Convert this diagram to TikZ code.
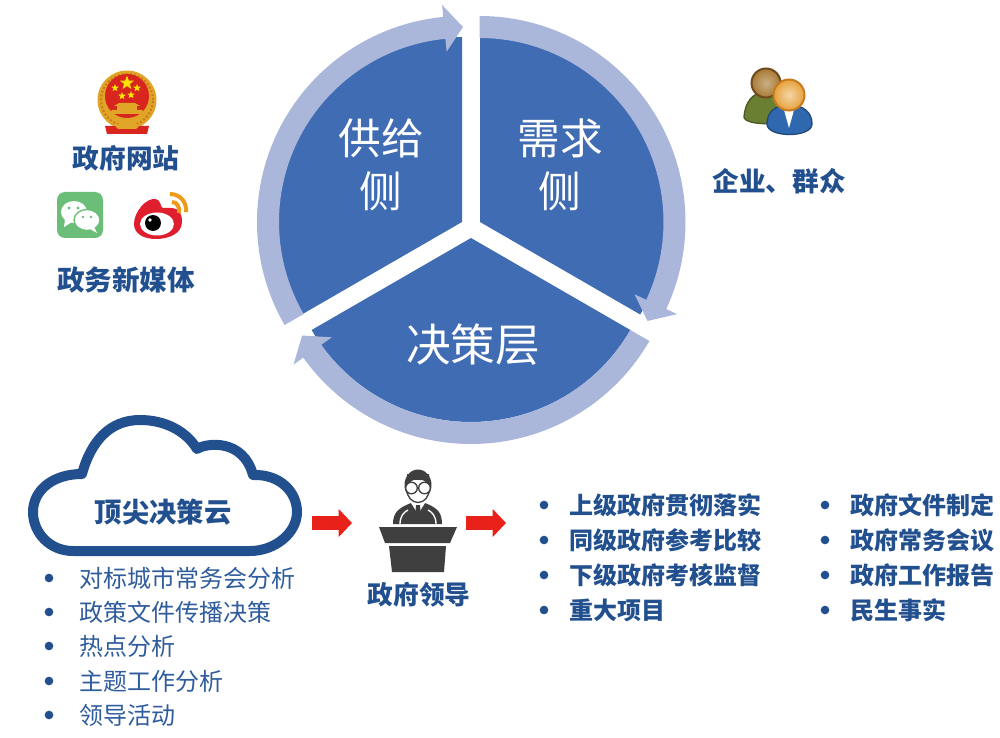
\documentclass[tikz,border=0pt]{standalone}
\usepackage{fontspec}
\setmainfont{Noto Sans CJK SC}
\usepackage{xcolor}
\usetikzlibrary{arrows.meta}
\usetikzlibrary{shapes}
\definecolor{sectorblue}{HTML}{3F6CB3}
\definecolor{ringblue}{HTML}{AAB7DA}
\definecolor{navy}{HTML}{22508F}
\definecolor{listblue}{HTML}{2F5C9C}
\definecolor{arrowred}{HTML}{E8211B}
\definecolor{iconblack}{HTML}{3F3F3F}
\definecolor{wreathgold}{HTML}{E0A526}
\definecolor{wreathdark}{HTML}{C9791E}
\definecolor{emblemred}{HTML}{D8251D}
\definecolor{wechatgreen}{HTML}{6BBE77}
\definecolor{weibored}{HTML}{DF1F2D}
\definecolor{weiboorange}{HTML}{F09A1A}
\definecolor{backhead}{HTML}{A87A35}
\definecolor{backedge}{HTML}{6E4A1C}
\definecolor{backcoat}{HTML}{6B7F32}
\definecolor{fronthead}{HTML}{E6A23C}
\definecolor{frontcoat}{HTML}{2F68AE}
\tikzset{
  sector/.style={fill=sectorblue},
  ring/.style={fill=ringblue},
  sectortext/.style={text=white,inner sep=0pt,align=center,font=\fontsize{32}{40}\selectfont},
  headline/.style={text=navy,inner sep=0pt,font=\bfseries\fontsize{20}{24}\selectfont},
  boldline/.style={text=navy,inner sep=0pt,anchor=west,font=\bfseries\fontsize{18}{22}\selectfont},
  plainline/.style={text=listblue,inner sep=0pt,anchor=west,font=\fontsize{18}{22}\selectfont},
  listdot/.style={circle,fill=navy,inner sep=0pt,minimum size=6.5pt},
  goldstar/.style={star,star points=5,star point ratio=2.4,fill=yellow!85!orange,inner sep=0pt},
  holder/.style={inner sep=0pt,outer sep=0pt,minimum height=60pt},
  redarrow/.style={arrowred,line width=10.5pt,-{Triangle[length=10pt,width=20.5pt]}}
}
% one ring of the wheel, centre / start angle / end angle / tip angle
\newcommand{\ringarrow}[4]{
  \fill[ring,shift={(#1)}] (#2:206) arc[start angle=#2,end angle=#3,radius=206]
    -- (#3:218) -- (#4:195) -- (#3:171) -- (#3:184)
    arc[start angle=#3,end angle=#2,radius=184] -- cycle;
}
\begin{document}
\begin{tikzpicture}[x=0.75pt,y=0.75pt]
\useasboundingbox (0,0) rectangle (1000,-738);

% wheel
\coordinate (supply) at (462,-222);
\coordinate (demand) at (480,-222);
\coordinate (decide) at (471,-238);
\coordinate (supplyring) at (463,-222);
\coordinate (demandring) at (479.5,-222);
\fill[sector] (supply) -- ++(90:185) arc[start angle=90,end angle=210,radius=185] -- cycle;
\fill[sector] (demand) -- ++(90:185) arc[start angle=90,end angle=-30,radius=185] -- cycle;
\fill[sector] (decide) -- ++(-30:184) arc[start angle=-30,end angle=-150,radius=184] -- cycle;
\ringarrow{supplyring}{210}{95.5}{90}
\ringarrow{demandring}{90}{-25}{-30.5}
\ringarrow{decide}{-30}{-144.5}{-150}
\node [sectortext] (supplytext) at (381,-165) {供给\\侧};
\node [sectortext] (demandtext) at (560,-165) {需求\\侧};
\node [sectortext,font=\fontsize{33.5}{40}\selectfont] (decidetext) at (473,-345) {决策层};

% emblem
\fill[wreathgold] (127,-100) circle (29.5);
\draw[wreathdark,line width=1.5pt,dash pattern=on 1.5pt off 1.5pt] (127,-100) circle (26);
\fill[emblemred] (105,-126) -- (149,-126) -- (147,-134) -- (107,-134) -- cycle;
\fill[wreathgold] (113,-124) -- (141,-124) -- (136,-129) -- (118,-129) -- cycle;
\fill[emblemred] (127,-96) circle (22);
\fill[wreathgold] (109,-114) -- (145,-114) -- (142,-110) -- (112,-110) -- cycle;
\fill[wreathgold] (117,-110) -- (137,-110) -- (137,-106) -- (117,-106) -- cycle;
\fill[wreathgold] (114,-106) -- (140,-106) -- (135,-103) -- (119,-103) -- cycle;
\node [goldstar,minimum size=11pt] (starmain) at (127,-83) {};
\node [goldstar,minimum size=6pt] (stara) at (115,-88) {};
\node [goldstar,minimum size=6pt] (starb) at (122,-96) {};
\node [goldstar,minimum size=6pt] (starc) at (131,-95) {};
\node [goldstar,minimum size=6pt] (stard) at (137,-88) {};
\node [headline] (website) at (126,-158) {政府网站};

% wechat
\fill[wechatgreen,rounded corners=6pt] (57,-192) rectangle (103,-238);
\fill[white] (74,-212) ellipse (13 and 11);
\fill[white] (65,-219) -- (64,-227) -- (72,-222) -- cycle;
\draw[fill=white,draw=wechatgreen,line width=1pt] (87,-220) ellipse (13 and 10.5);
\fill[white] (94,-227) -- (97,-233) -- (90,-229) -- cycle;
\fill[wechatgreen] (69,-208) circle (1.6) (78,-208) circle (1.6) (83,-217) circle (1.3) (91,-217) circle (1.3);

% weibo
\fill[weibored] (134,-224) .. controls (134,-212) and (146,-198) .. (155,-199)
  .. controls (162,-200) and (160,-208) .. (163,-208)
  .. controls (172,-208) and (182,-206) .. (182,-222)
  .. controls (182,-234) and (168,-239) .. (156,-239)
  .. controls (144,-239) and (134,-234) .. (134,-224) -- cycle;
\fill[white] (157,-224) ellipse (17 and 11.5);
\fill[black] (153,-223) circle (8);
\fill[white] (150,-220) circle (1.8);
\draw[weiboorange,line width=3pt] (170,-194) .. controls (180,-194) and (187,-202) .. (186,-212);
\draw[weiboorange,line width=3pt] (172,-202) .. controls (177,-202) and (180,-207) .. (179,-213);
\node [headline,font=\bfseries\fontsize{20.7}{24}\selectfont] (newmedia) at (126,-280) {政务新媒体};

% people
\draw[draw=backcoat!70!black,line width=1pt,fill=backcoat] (744,-117) .. controls (745,-103) and (752,-92) .. (766,-92)
  .. controls (780,-92) and (789,-103) .. (790,-117) .. controls (790,-126) and (744,-126) .. (744,-117) -- cycle;
\draw[draw=backedge,line width=1.5pt,inner color=backhead!60!white,outer color=backhead] (766,-83) circle (14.5);
\draw[draw=frontcoat!70!black,line width=1pt,fill=frontcoat] (767,-124) .. controls (767,-112) and (775,-105) .. (789,-105)
  .. controls (803,-105) and (812,-112) .. (812,-124) .. controls (812,-138) and (767,-138) .. (767,-124) -- cycle;
\fill[white] (784,-110) -- (794,-110) -- (789,-128) -- cycle;
\draw[draw=wreathdark,line width=1.5pt,inner color=fronthead!45!white,outer color=fronthead] (789,-95) circle (15.5);
\node [headline] (people) at (779,-181) {企业、群众};

% cloud
\draw[navy,line width=7.5pt,line join=round] (250,-551) -- (73,-551)
  .. controls (50,-551) and (33,-533) .. (33,-512)
  .. controls (33,-491) and (52,-474) .. (82,-474)
  .. controls (91,-441) and (110,-420) .. (140,-420)
  .. controls (165,-420) and (186,-431) .. (197,-449)
  .. controls (206,-443) and (243,-438) .. (253,-475)
  .. controls (280,-474) and (297,-492) .. (297,-512)
  .. controls (297,-533) and (275,-551) .. (250,-551) -- cycle;
\node [headline,font=\bfseries\fontsize{20.5}{24}\selectfont] (cloudtitle) at (163,-512) {顶尖决策云};
\node [holder,minimum width=223.5pt] (cloudbox) at (163,-523) {};

% leader
\node [holder,minimum width=85.5pt] (leader) at (409,-523) {};
\fill[iconblack] (393,-524) .. controls (393,-513) and (398,-508) .. (411,-503)
  -- (425,-503) .. controls (438,-508) and (442,-513) .. (442,-524) -- cycle;
\fill[white] (411,-503) -- (425,-503) -- (418,-514) -- cycle;
\fill[iconblack] (416,-505) -- (420,-505) -- (421,-518) -- (418,-523) -- (415,-518) -- cycle;
\draw[white,line width=1pt] (400,-524) .. controls (400,-516) and (404,-512) .. (408,-510);
\draw[white,line width=1pt] (436,-524) .. controls (436,-516) and (432,-512) .. (428,-510);
\fill[iconblack] (418,-485) ellipse (13.5 and 15.5);
\draw[iconblack,fill=white,line width=1pt] (418,-490) ellipse (11 and 12.5);
\fill[iconblack] (407,-486) .. controls (409,-479) and (414,-479) .. (429,-481) -- (429,-474) -- (407,-474) -- cycle;
\draw[iconblack,fill=white,line width=1pt] (411.5,-488) circle (5.8) (424.5,-488) circle (5.8);
\fill[iconblack] (379,-527) -- (457,-527) -- (450,-543) -- (385,-543) -- cycle;
\fill[iconblack] (389,-546) -- (446,-546) -- (444,-572) -- (392,-572) -- cycle;
\node [headline,font=\bfseries\fontsize{19.3}{24}\selectfont] (leadertitle) at (419,-595) {政府领导};

\coordinate (listin) at (506,-523);
\draw[redarrow] (cloudbox.east) -- (leader.west);
\draw[redarrow] (leader.east) -- (listin);

% lists
\foreach \y/\txt [count=\i] in {578/对标城市常务会分析,612/政策文件传播决策,646/热点分析,681/主题工作分析,715/领导活动}{
  \node [listdot] (leftdot\i) at (49,-\y) {};
  \node [plainline] (leftitem\i) at (79,-\y) {\txt};
}
\foreach \y/\txt [count=\i] in {505/上级政府贯彻落实,540/同级政府参考比较,575/下级政府考核监督,610/重大项目}{
  \node [listdot] (middot\i) at (544,-\y) {};
  \node [boldline] (miditem\i) at (569,-\y) {\txt};
}
\foreach \y/\txt [count=\i] in {505/政府文件制定,540/政府常务会议,575/政府工作报告,610/民生事实}{
  \node [listdot] (rightdot\i) at (825,-\y) {};
  \node [boldline] (rightitem\i) at (850,-\y) {\txt};
}
\end{tikzpicture}
\end{document}
